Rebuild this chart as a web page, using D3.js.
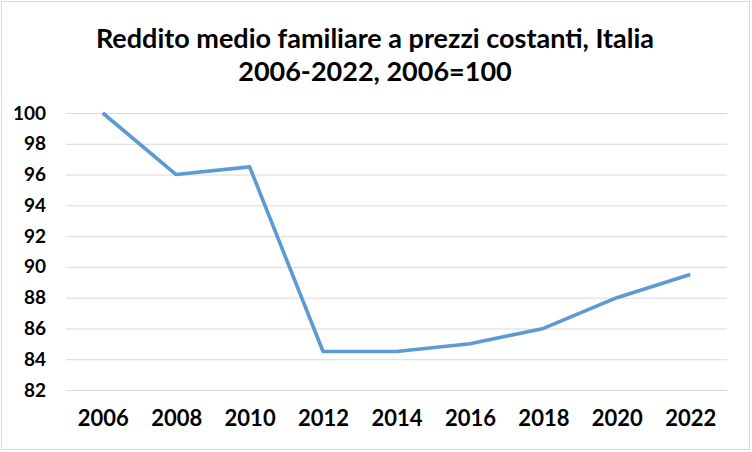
<!DOCTYPE html>
<html><head><meta charset="utf-8">
<script src="https://cdn.jsdelivr.net/npm/d3@7"></script>
<style>body{margin:0;background:#fff}svg{display:block}</style>
</head><body>
<script>
const years = ["2006","2008","2010","2012","2014","2016","2018","2020","2022"];
const values = [100, 96, 96.5, 84.5, 84.5, 85, 86, 88, 89.5];
const yTicks = [82,84,86,88,90,92,94,96,98,100];
const titleLines = ["Reddito medio familiare a prezzi costanti, Italia", "2006-2022, 2006=100"];

(function(){
const W = 752, H = 452;
const font = "Lato,'Open Sans',Arial,sans-serif";
const svg = d3.select("body").append("svg").attr("width", W).attr("height", H);
svg.append("rect").attr("x",1.5).attr("y",1.5).attr("width",W-4).attr("height",H-4)
  .attr("fill","#fff").attr("stroke","#d9d9d9").attr("stroke-width",1);

const pl = 66, pr = 727, pt = 113, pb = 390;
const x = d3.scalePoint().domain(years).range([pl, pr]).padding(0.5);
const y = d3.scaleLinear().domain([82,100]).range([pb, pt]);

const t = svg.append("text").attr("text-anchor","middle").attr("font-family",font)
  .attr("font-weight","bold").attr("font-size",27).attr("fill","#000");
titleLines.forEach((l,i)=>t.append("tspan").attr("x",375).attr("y",48+i*33).text(l));

const gy = svg.append("g").attr("transform",`translate(${pl},0)`)
  .call(d3.axisLeft(y).tickValues(yTicks).tickSize(-(pr-pl)).tickPadding(20).tickFormat(d3.format("d")));
gy.select(".domain").remove();
gy.selectAll(".tick line").attr("stroke","#d9d9d9").attr("stroke-width",1);
gy.selectAll(".tick text").attr("font-family",font).attr("font-weight","bold").attr("font-size",19).attr("fill","#000");

const gx = svg.append("g").attr("transform",`translate(0,${pb})`)
  .call(d3.axisBottom(x).tickSize(0).tickPadding(20));
gx.select(".domain").remove();
gx.selectAll(".tick text").attr("font-family",font).attr("font-weight","bold").attr("font-size",22).attr("fill","#000");

svg.append("path").datum(values.map((v,i)=>[years[i],v]))
  .attr("fill","none").attr("stroke","#5B9BD5").attr("stroke-width",3.6).attr("stroke-linejoin","round")
  .attr("d", d3.line().x(d=>x(d[0])).y(d=>y(d[1])));
})();
</script>
</body></html>
